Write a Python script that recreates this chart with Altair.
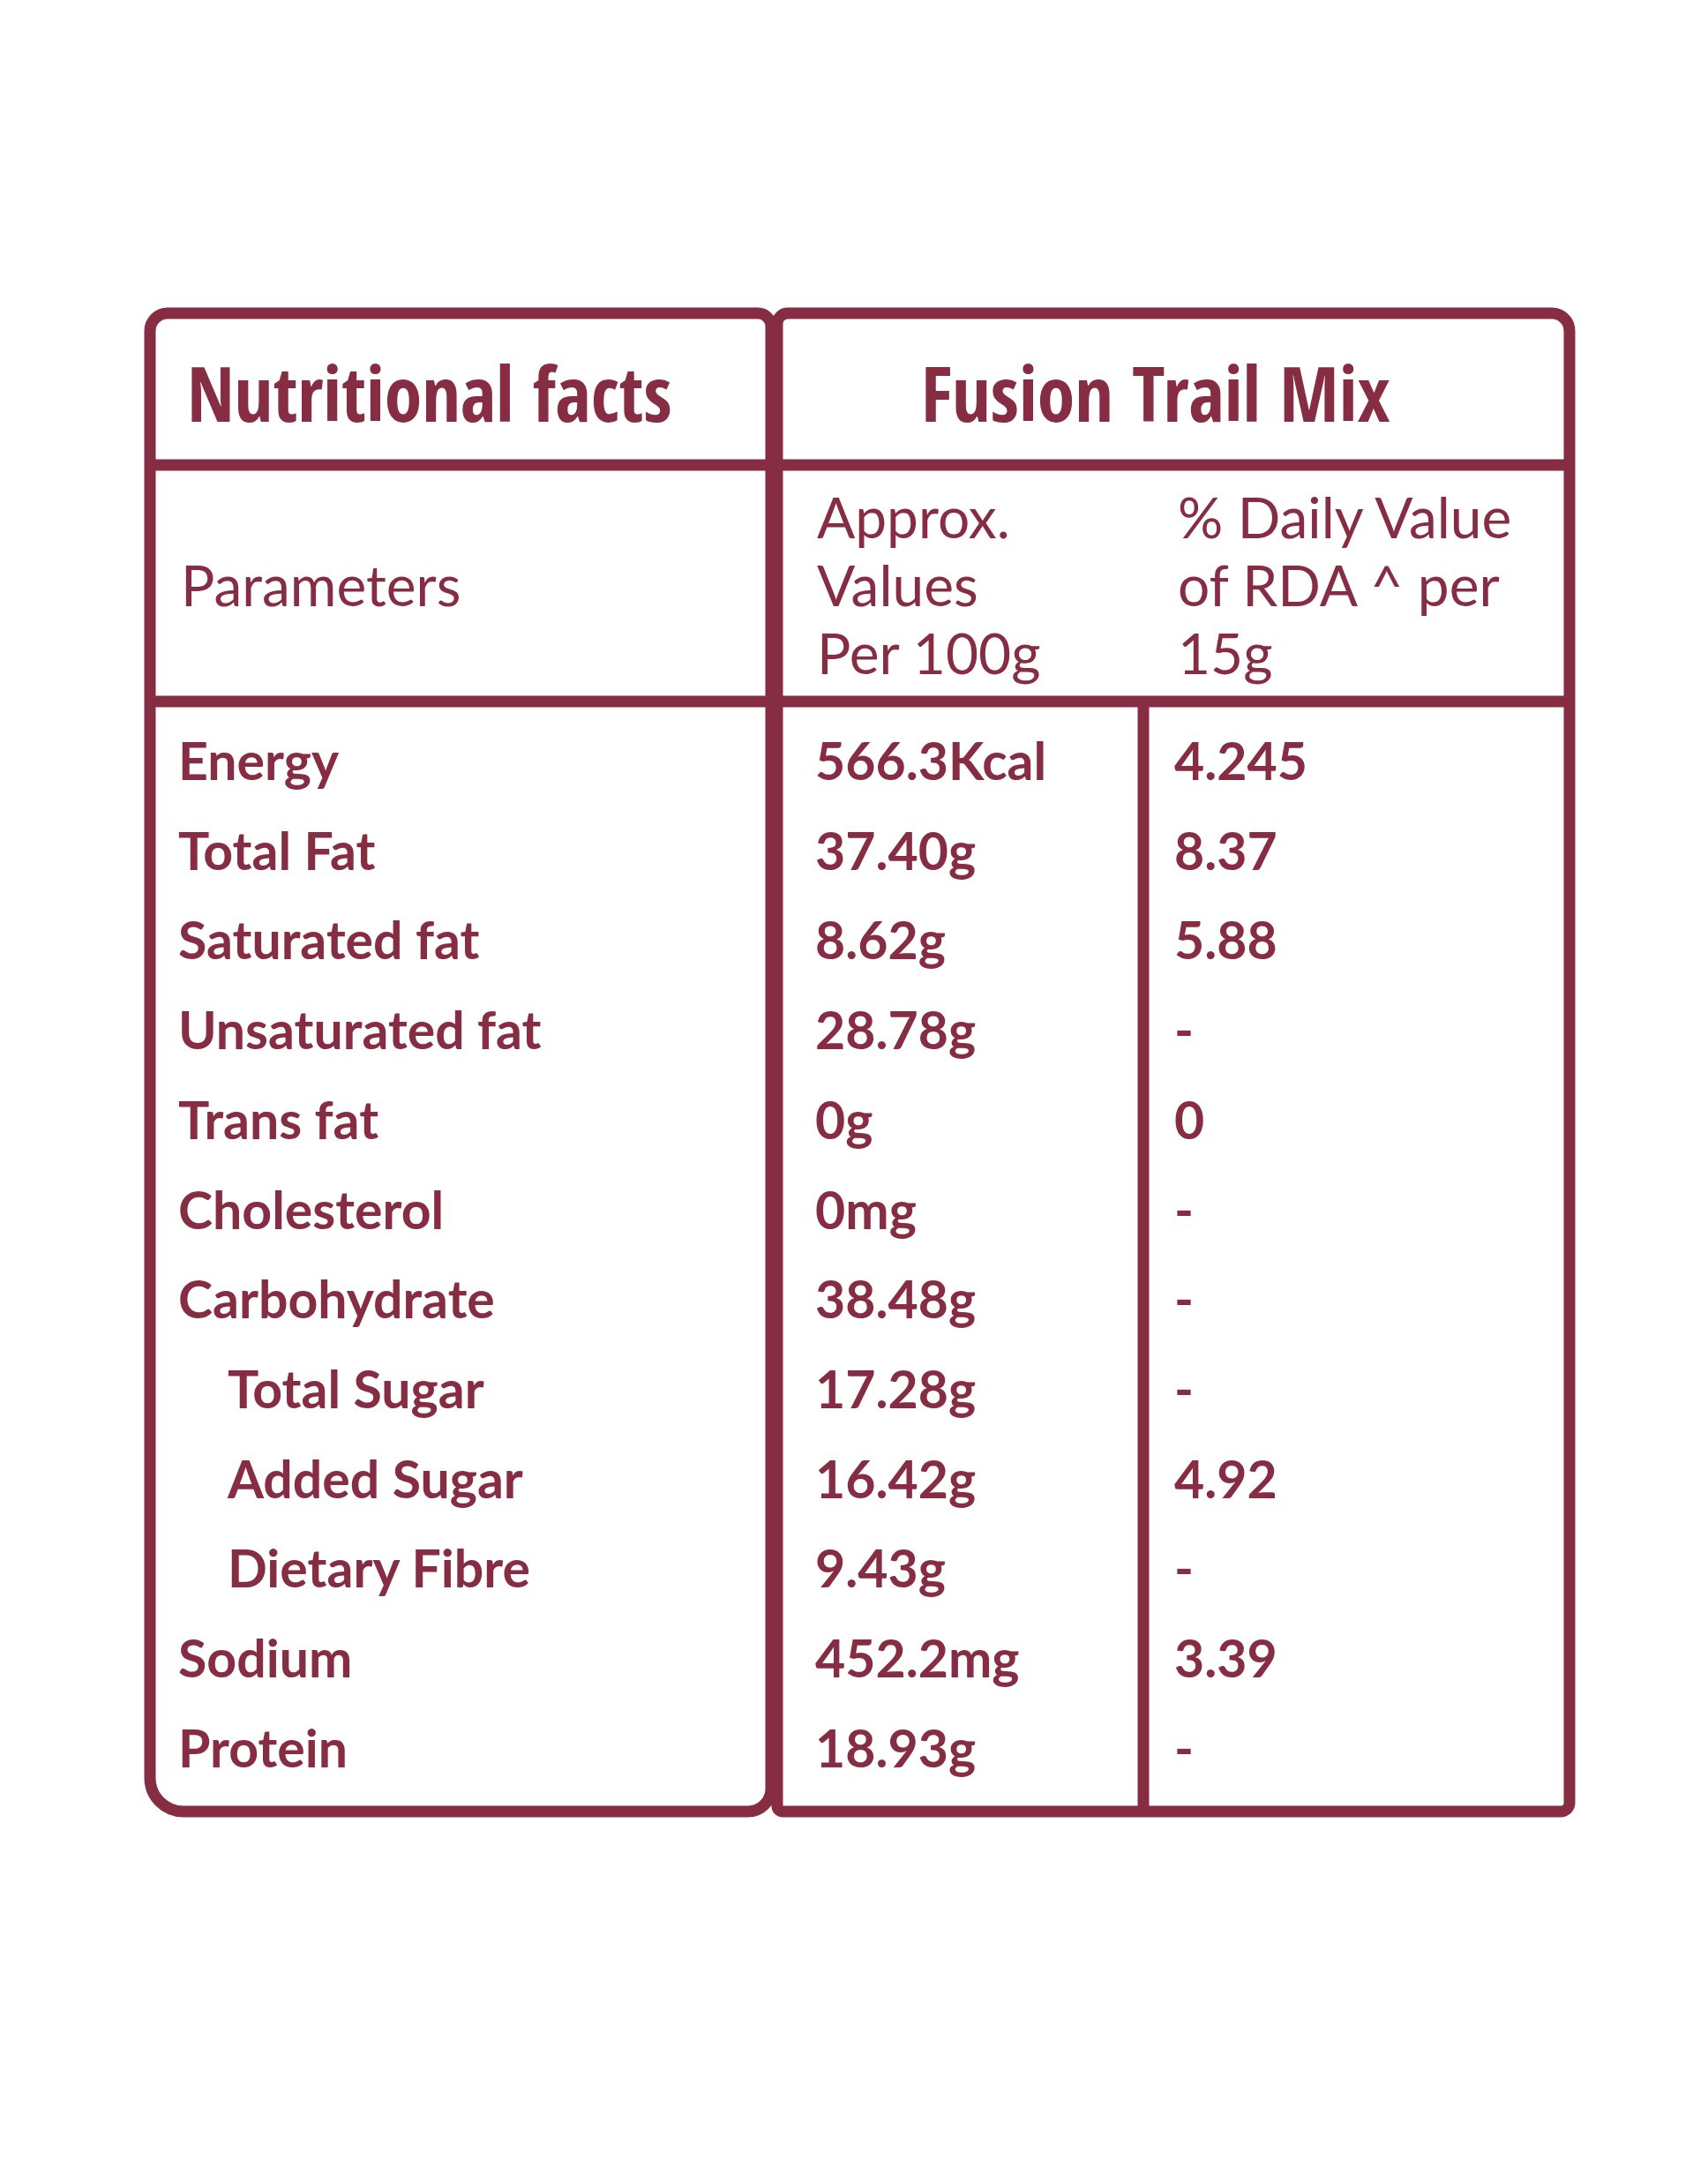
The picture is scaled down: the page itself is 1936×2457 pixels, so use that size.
import altair as alt
import pandas as pd

# ---------------- data ----------------
parameters = ["Energy", "Total Fat", "Saturated fat", "Unsaturated fat", "Trans fat",
              "Cholesterol", "Carbohydrate", "Total Sugar", "Added Sugar",
              "Dietary Fibre", "Sodium", "Protein"]
indented = [0, 0, 0, 0, 0, 0, 0, 1, 1, 1, 0, 0]
per_100g = ["566.3Kcal", "37.40g", "8.62g", "28.78g", "0g", "0mg", "38.48g",
            "17.28g", "16.42g", "9.43g", "452.2mg", "18.93g"]
rda_15g = ["4.245", "8.37", "5.88", "-", "0", "-", "-", "-", "4.92", "-", "3.39", "-"]

title_left = "Nutritional facts"
title_right = "Fusion Trail Mix"
head_col1 = ["Parameters"]
head_col2 = ["Approx.", "Values", "Per 100g"]
head_col3 = ["% Daily Value", "of RDA ^ per", "15g"]

# ---------------- layout / style ----------------
COLOR = "#862D44"
W, H = 1920, 2441
SW = 13
BOX_L = dict(x=170, x2=874, y=355, y2=2053)
BOX_R = dict(x=881, x2=1779, y=355, y2=2053)
HEAD_LINE = 527
SUB_LINE = 795
COL_DIV = 1296
ROW0, ROW_STEP = 884, 101.7
X_NAME, X_INDENT, X_VAL, X_RDA = 202, 258, 924, 1331
HEAD_BASE0, HEAD_STEP = 610, 77

xs = alt.Scale(domain=[8, 8 + W], nice=False, zero=False)
ys = alt.Scale(domain=[8, 8 + H], nice=False, zero=False, reverse=True)
X = lambda f: alt.X(f, type="quantitative", scale=xs, axis=None)
Y = lambda f: alt.Y(f, type="quantitative", scale=ys, axis=None)

layers = []

# boxes
box_l = alt.Chart(pd.DataFrame([BOX_L])).mark_rect(
    fillOpacity=0, stroke=COLOR, strokeWidth=SW,
    cornerRadiusTopLeft=20, cornerRadiusTopRight=15,
    cornerRadiusBottomLeft=38, cornerRadiusBottomRight=26,
).encode(x=X("x"), x2="x2", y=Y("y"), y2="y2")
box_r = alt.Chart(pd.DataFrame([BOX_R])).mark_rect(
    fillOpacity=0, stroke=COLOR, strokeWidth=SW,
    cornerRadiusTopLeft=12, cornerRadiusTopRight=20,
    cornerRadiusBottomLeft=6, cornerRadiusBottomRight=10,
).encode(x=X("x"), x2="x2", y=Y("y"), y2="y2")
layers += [box_l, box_r]

# horizontal rules
hrules = pd.DataFrame({
    "x": [BOX_L["x"], BOX_L["x"]],
    "x2": [BOX_R["x2"], BOX_R["x2"]],
    "y": [HEAD_LINE, SUB_LINE],
})
layers.append(alt.Chart(hrules).mark_rule(color=COLOR, strokeWidth=SW, strokeCap="butt").encode(
    x=X("x"), x2="x2", y=Y("y")))
# column divider
vrule = pd.DataFrame({"x": [COL_DIV], "y": [SUB_LINE], "y2": [BOX_R["y2"]]})
layers.append(alt.Chart(vrule).mark_rule(color=COLOR, strokeWidth=SW, strokeCap="butt").encode(
    x=X("x"), y=Y("y"), y2="y2"))

# titles
t_left = pd.DataFrame({"t": [title_left], "x": [212], "y": [478]})
t_right = pd.DataFrame({"t": [title_right], "x": [1310], "y": [478]})
title_font = "Open Sans Condensed, Roboto Condensed, Lato"
layers.append(alt.Chart(t_left).mark_text(
    font=title_font, fontWeight="bold", fontSize=86, color=COLOR,
    align="left", baseline="alphabetic").encode(x=X("x"), y=Y("y"), text="t:N"))
layers.append(alt.Chart(t_right).mark_text(
    font=title_font, fontWeight="bold", fontSize=86, color=COLOR,
    align="center", baseline="alphabetic").encode(x=X("x"), y=Y("y"), text="t:N"))

# sub-headers
hrows = []
hrows.append({"t": head_col1[0], "x": 205, "y": HEAD_BASE0 + HEAD_STEP})
for i, s in enumerate(head_col2):
    hrows.append({"t": s, "x": 926, "y": HEAD_BASE0 + HEAD_STEP * i})
for i, s in enumerate(head_col3):
    hrows.append({"t": s, "x": 1335, "y": HEAD_BASE0 + HEAD_STEP * i})
layers.append(alt.Chart(pd.DataFrame(hrows)).mark_text(
    font="Lato", fontWeight="normal", fontSize=64, color=COLOR,
    align="left", baseline="alphabetic").encode(x=X("x"), y=Y("y"), text="t:N"))

# body
body = []
for i in range(len(parameters)):
    yb = ROW0 + ROW_STEP * i
    body.append({"t": parameters[i], "x": X_INDENT if indented[i] else X_NAME, "y": yb})
    body.append({"t": per_100g[i], "x": X_VAL, "y": yb})
    body.append({"t": rda_15g[i], "x": X_RDA, "y": yb})
layers.append(alt.Chart(pd.DataFrame(body)).mark_text(
    font="Lato", fontWeight="bold", fontSize=59, color=COLOR,
    align="left", baseline="alphabetic").encode(x=X("x"), y=Y("y"), text="t:N"))

chart = alt.layer(*layers).properties(
    width=W, height=H, padding=0, autosize=alt.AutoSizeParams(type="none"),
    background="white",
).configure_view(stroke=None)

chart.save("out.html", embed_options={"renderer": "svg", "actions": False})
